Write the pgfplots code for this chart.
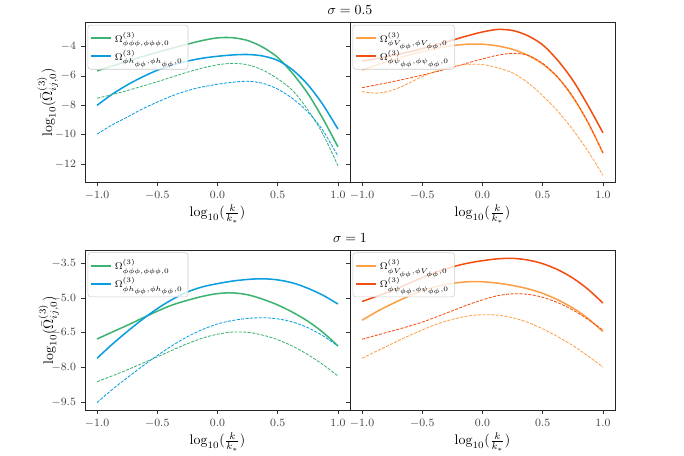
\documentclass[border=0pt]{standalone}
\usepackage{pgfplots}
\pgfplotsset{compat=1.18}
\definecolor{cgreen}{RGB}{60,179,113}
\definecolor{cblue}{RGB}{10,158,225}
\definecolor{corange}{RGB}{255,158,68}
\definecolor{cred}{RGB}{243,78,18}
\pgfplotsset{
  myax/.style={
    scale only axis, width=190.8pt,
    xmin=-1.1, xmax=1.1,
    xtick={-1,-0.5,0,0.5,1},
    tick align=outside, xtick pos=bottom, ytick pos=left,
    major tick length=3pt,
    tick style={black!80, line width=0.5pt},
    axis line style={black!85, line width=0.6pt},
    xticklabel style={/pgf/number format/.cd, fixed, fixed zerofill, precision=1},
    ticklabel style={font=\footnotesize, text=black!75},
    xlabel={$\log_{10}(\frac{k}{k_*})$},
    label style={font=\normalsize},
    xlabel style={yshift=3pt},
    legend cell align=left,
    legend style={at={(0.01,0.985)}, anchor=north west, draw=black!20, rounded corners=2pt,
      fill=white, fill opacity=0.8, draw opacity=1, text opacity=1, font=\scriptsize,
      inner xsep=2pt, inner ysep=3pt},
    legend image code/.code={\draw[#1, line width=1.1pt] (0cm,0cm) -- (0.5cm,0cm);},
    title style={at={(1,1)}, anchor=base, yshift=-0.5pt, font=\normalsize},
  },
  sol/.style={line width=1.1pt, smooth},
  das/.style={line width=0.6pt, smooth, dash pattern=on 2.2pt off 1pt},
  topy/.style={height=114.9pt, ymin=-13.2, ymax=-2.37, ytick={-12,-10,-8,-6,-4}},
  boty/.style={height=115.2pt, ymin=-9.83, ymax=-2.93, ytick={-9.5,-8,-6.5,-5,-3.5},
    yticklabel style={/pgf/number format/.cd, fixed, fixed zerofill, precision=1}},
}
\begin{document}
\begin{tikzpicture}
\useasboundingbox (0,0) rectangle (492.48pt,328.32pt);
% ---------------- top left
\begin{axis}[myax, topy, at={(61.2pt,197.3pt)}, anchor=south west,
  ylabel={$\log_{10}(\bar{\Omega}^{(3)}_{ij,0})$}, ylabel style={yshift=-9pt},
  title={$\sigma = 0.5$}]
\addplot[cgreen, sol] coordinates {(-1,-5.66) (-0.875,-5.33) (-0.75,-5.01) (-0.625,-4.7) (-0.5,-4.4) (-0.375,-4.12) (-0.25,-3.85) (-0.125,-3.6) (0,-3.42) (0.125,-3.41) (0.25,-3.6) (0.375,-4.05) (0.5,-4.75) (0.625,-5.85) (0.75,-7.2) (0.875,-8.9) (1,-10.82)};
\addlegendentry{$\Omega^{(3)}_{\phi\phi\phi,\phi\phi\phi,0}$}
\addplot[cblue, sol] coordinates {(-1,-8.0) (-0.875,-7.25) (-0.75,-6.62) (-0.625,-6.08) (-0.5,-5.62) (-0.375,-5.27) (-0.25,-5.0) (-0.125,-4.8) (0,-4.67) (0.125,-4.58) (0.25,-4.55) (0.375,-4.65) (0.5,-4.95) (0.625,-5.6) (0.75,-6.6) (0.875,-7.95) (1,-9.61)};
\addlegendentry{$\Omega^{(3)}_{\phi h_{\phi\phi},\phi h_{\phi\phi},0}$}
\addplot[cgreen, das, forget plot] coordinates {(-1,-7.52) (-0.875,-7.27) (-0.75,-7.0) (-0.625,-6.7) (-0.5,-6.4) (-0.375,-6.07) (-0.25,-5.75) (-0.125,-5.47) (0,-5.25) (0.125,-5.15) (0.25,-5.25) (0.375,-5.6) (0.5,-6.2) (0.625,-7.0) (0.75,-8.3) (0.875,-9.95) (1,-12.1)};
\addplot[cblue, das, forget plot] coordinates {(-1,-9.95) (-0.875,-9.33) (-0.75,-8.8) (-0.625,-8.25) (-0.5,-7.78) (-0.375,-7.35) (-0.25,-7.0) (-0.125,-6.75) (0,-6.57) (0.125,-6.43) (0.25,-6.37) (0.375,-6.5) (0.5,-6.9) (0.625,-7.55) (0.75,-8.45) (0.875,-9.7) (1,-11.45)};
\end{axis}
% ---------------- top right
\begin{axis}[myax, topy, at={(252pt,197.3pt)}, anchor=south west, yticklabels={}]
\addplot[corange, sol] coordinates {(-1,-5.6) (-0.875,-5.25) (-0.75,-4.93) (-0.625,-4.62) (-0.5,-4.35) (-0.375,-4.12) (-0.25,-3.95) (-0.125,-3.85) (0,-3.85) (0.125,-3.97) (0.25,-4.2) (0.375,-4.6) (0.5,-5.2) (0.625,-6.1) (0.75,-7.45) (0.875,-9.15) (1,-11.23)};
\addlegendentry{$\Omega^{(3)}_{\phi V_{\phi\phi},\phi V_{\phi\phi},0}$}
\addplot[cred, sol] coordinates {(-1,-5.0) (-0.875,-4.82) (-0.75,-4.62) (-0.625,-4.4) (-0.5,-4.15) (-0.375,-3.87) (-0.25,-3.58) (-0.125,-3.28) (0,-3.02) (0.125,-2.85) (0.25,-2.92) (0.375,-3.27) (0.5,-3.9) (0.625,-4.95) (0.75,-6.3) (0.875,-8.0) (1,-9.86)};
\addlegendentry{$\Omega^{(3)}_{\phi\psi_{\phi\phi},\phi\psi_{\phi\phi},0}$}
\addplot[cred, das, forget plot] coordinates {(-1,-6.8) (-0.875,-6.6) (-0.75,-6.4) (-0.625,-6.18) (-0.5,-5.95) (-0.375,-5.7) (-0.25,-5.43) (-0.125,-5.13) (0,-4.85) (0.125,-4.6) (0.25,-4.47) (0.375,-4.6) (0.5,-5.15) (0.625,-6.1) (0.75,-7.4) (0.875,-9.15) (1,-11.23)};
\addplot[corange, das, forget plot] coordinates {(-1,-7.07) (-0.875,-7.17) (-0.75,-6.98) (-0.625,-6.55) (-0.5,-6.05) (-0.375,-5.65) (-0.25,-5.38) (-0.125,-5.22) (0,-5.23) (0.125,-5.45) (0.25,-5.8) (0.375,-6.45) (0.5,-7.35) (0.625,-8.4) (0.75,-9.65) (0.875,-11.1) (1,-12.75)};
\end{axis}
% ---------------- bottom left
\begin{axis}[myax, boty, at={(61.2pt,33.12pt)}, anchor=south west,
  ylabel={$\log_{10}(\bar{\Omega}^{(3)}_{ij,0})$}, ylabel style={yshift=-12pt},
  title={$\sigma = 1$}]
\addplot[cgreen, sol] coordinates {(-1,-6.77) (-0.875,-6.47) (-0.75,-6.18) (-0.625,-5.87) (-0.5,-5.57) (-0.375,-5.3) (-0.25,-5.1) (-0.125,-4.93) (0,-4.81) (0.125,-4.78) (0.25,-4.86) (0.375,-5.05) (0.5,-5.3) (0.625,-5.62) (0.75,-6.0) (0.875,-6.48) (1,-7.07)};
\addlegendentry{$\Omega^{(3)}_{\phi\phi\phi,\phi\phi\phi,0}$}
\addplot[cblue, sol] coordinates {(-1,-7.6) (-0.875,-7.0) (-0.75,-6.45) (-0.625,-5.93) (-0.5,-5.46) (-0.375,-5.06) (-0.25,-4.74) (-0.125,-4.52) (0,-4.38) (0.125,-4.27) (0.25,-4.2) (0.375,-4.17) (0.5,-4.22) (0.625,-4.35) (0.75,-4.58) (0.875,-4.88) (1,-5.26)};
\addlegendentry{$\Omega^{(3)}_{\phi h_{\phi\phi},\phi h_{\phi\phi},0}$}
\addplot[cgreen, das, forget plot] coordinates {(-1,-8.61) (-0.875,-8.36) (-0.75,-8.1) (-0.625,-7.82) (-0.5,-7.54) (-0.375,-7.25) (-0.25,-6.97) (-0.125,-6.73) (0,-6.56) (0.125,-6.47) (0.25,-6.48) (0.375,-6.6) (0.5,-6.8) (0.625,-7.08) (0.75,-7.44) (0.875,-7.87) (1,-8.36)};
\addplot[cblue, das, forget plot] coordinates {(-1,-9.51) (-0.875,-8.95) (-0.75,-8.44) (-0.625,-7.95) (-0.5,-7.48) (-0.375,-7.05) (-0.25,-6.67) (-0.125,-6.36) (0,-6.12) (0.125,-5.97) (0.25,-5.88) (0.375,-5.85) (0.5,-5.9) (0.625,-6.04) (0.75,-6.28) (0.875,-6.63) (1,-7.07)};
\end{axis}
% ---------------- bottom right
\begin{axis}[myax, boty, at={(252pt,33.12pt)}, anchor=south west, yticklabels={}]
\addplot[corange, sol] coordinates {(-1,-5.96) (-0.875,-5.58) (-0.75,-5.25) (-0.625,-4.95) (-0.5,-4.7) (-0.375,-4.5) (-0.25,-4.37) (-0.125,-4.3) (0,-4.3) (0.125,-4.36) (0.25,-4.46) (0.375,-4.6) (0.5,-4.8) (0.625,-5.08) (0.75,-5.43) (0.875,-5.88) (1,-6.45)};
\addlegendentry{$\Omega^{(3)}_{\phi V_{\phi\phi},\phi V_{\phi\phi},0}$}
\addplot[cred, sol] coordinates {(-1,-5.15) (-0.875,-4.92) (-0.75,-4.68) (-0.625,-4.4) (-0.5,-4.12) (-0.375,-3.87) (-0.25,-3.66) (-0.125,-3.5) (0,-3.39) (0.125,-3.31) (0.25,-3.29) (0.375,-3.36) (0.5,-3.52) (0.625,-3.78) (0.75,-4.14) (0.875,-4.62) (1,-5.22)};
\addlegendentry{$\Omega^{(3)}_{\phi\psi_{\phi\phi},\phi\psi_{\phi\phi},0}$}
\addplot[cred, das, forget plot] coordinates {(-1,-6.78) (-0.875,-6.6) (-0.75,-6.42) (-0.625,-6.24) (-0.5,-6.04) (-0.375,-5.8) (-0.25,-5.55) (-0.125,-5.3) (0,-5.08) (0.125,-4.9) (0.25,-4.82) (0.375,-4.84) (0.5,-4.97) (0.625,-5.2) (0.75,-5.52) (0.875,-5.92) (1,-6.39)};
\addplot[corange, das, forget plot] coordinates {(-1,-7.6) (-0.875,-7.28) (-0.75,-6.97) (-0.625,-6.66) (-0.5,-6.38) (-0.375,-6.12) (-0.25,-5.92) (-0.125,-5.78) (0,-5.72) (0.125,-5.74) (0.25,-5.85) (0.375,-6.05) (0.5,-6.33) (0.625,-6.67) (0.75,-7.05) (0.875,-7.5) (1,-7.98)};
\end{axis}
\end{tikzpicture}
\end{document}
